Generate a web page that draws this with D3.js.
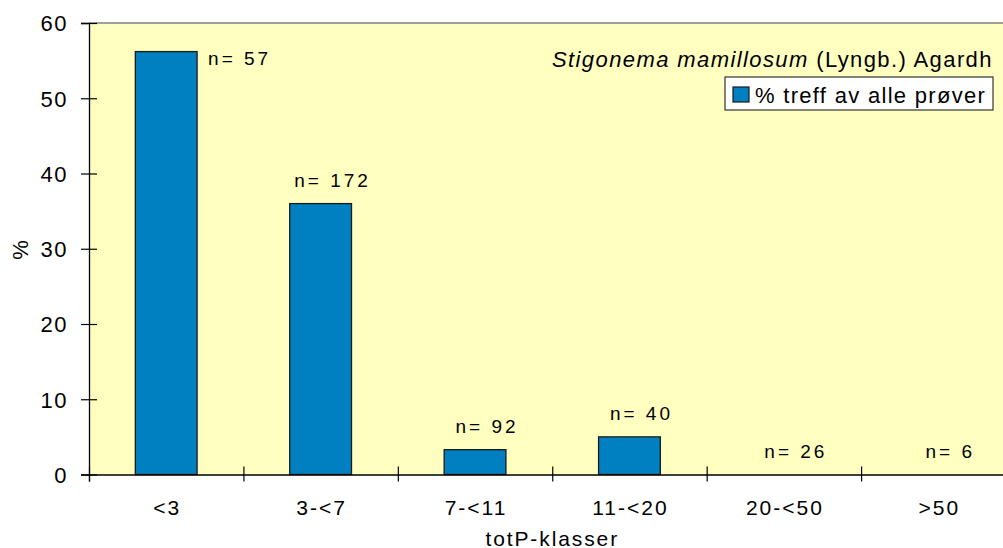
<!DOCTYPE html>
<html lang="en">
	<head>
		<meta charset="utf-8">
		<title>Stigonema mamillosum</title>
		<script type="text/javascript" src="https://cdn.jsdelivr.net/npm/d3@7"></script>
		<style type="text/css">
			body { margin: 0; background: #fff; }
			text { font-family: "Liberation Sans", Arial, sans-serif; fill: #000; }
		</style>
	</head>
	<body>
		<script>
			// data
			var categories = ["<3", "3-<7", "7-<11", "11-<20", "20-<50", ">50"];
			var percent = [56.2, 36.0, 3.3, 5.0, 0, 0];
			var counts = [57, 172, 92, 40, 26, 6];
			var yTicks = [0, 10, 20, 30, 40, 50, 60];
			var seriesName = "% treff av alle prøver";

			var outerWidth = 1003,
				outerHeight = 548,
				margin = {top: 23, left: 89},
				width = 926.5,      // plot runs past the right edge, as in the original
				height = 451.5;

			var svg = d3.select("body")
						.append("svg")
						.attr("width", outerWidth)
						.attr("height", outerHeight);

			var g = svg.append("g")
						.attr("transform", "translate(" + margin.left + "," + margin.top + ")");

			var x = d3.scaleBand()
						.domain(categories)
						.range([0, width])
						.paddingInner(0.6)
						.paddingOuter(0.3);

			var xEdge = d3.scaleLinear()
						.domain([0, categories.length])
						.range([0, width]);

			var y = d3.scaleLinear()
						.domain([0, 60])
						.range([height, 0]);

			// plot background
			g.append("rect")
				.attr("width", width)
				.attr("height", height)
				.attr("fill", "#ffffc0");

			g.append("line")
				.attr("x1", 0).attr("x2", width)
				.attr("y1", 0).attr("y2", 0)
				.attr("stroke", "#808080")
				.attr("stroke-width", 1.5);

			// bars
			g.selectAll("rect.bar")
				.data(categories.filter(function(c, i) { return percent[i] > 0; }))
				.enter().append("rect")
				.attr("class", "bar")
				.attr("x", function(d) { return x(d); })
				.attr("y", function(d) { return y(percent[categories.indexOf(d)]); })
				.attr("width", x.bandwidth())
				.attr("height", function(d) { return height - y(percent[categories.indexOf(d)]); })
				.attr("fill", "#0080c0")
				.attr("stroke", "#1a1a1a")
				.attr("stroke-width", 1.3);

			// n= labels
			g.selectAll("text.nlab")
				.data(categories)
				.enter().append("text")
				.attr("class", "nlab")
				.attr("font-size", 19)
				.attr("letter-spacing", 3)
				.attr("text-anchor", function(d, i) {
					return y(percent[i]) - 30 < 0 ? "start" : "middle";
				})
				.attr("x", function(d, i) {
					if (y(percent[i]) - 30 < 0) return x(d) + x.bandwidth() + 11;
					return x(d) + x.bandwidth() / 2 + 12;
				})
				.attr("y", function(d, i) {
					if (y(percent[i]) - 30 < 0) return y(percent[i]) + 13;
					return y(percent[i]) - 17;
				})
				.text(function(d, i) { return "n= " + counts[i]; });

			// y axis
			var yAxis = g.append("g")
				.call(d3.axisLeft(y).tickValues(yTicks).tickSize(8).tickPadding(13));
			yAxis.select(".domain").attr("stroke", "#000").attr("stroke-width", 1.3);
			yAxis.selectAll(".tick line").attr("x1", -8).attr("x2", 8).attr("stroke", "#000").attr("stroke-width", 1.2);
			yAxis.selectAll(".tick text")
				.attr("font-size", 22)
				.attr("letter-spacing", 1.5)
				.attr("font-family", "Liberation Sans, Arial, sans-serif")
				.attr("dy", "0.36em");

			// x axis: boundary ticks
			var xAxis = g.append("g")
				.attr("transform", "translate(0," + height + ")")
				.call(d3.axisBottom(xEdge).tickValues(d3.range(categories.length + 1)).tickSize(7).tickFormat(""));
			xAxis.select(".domain").attr("stroke", "#000").attr("stroke-width", 1.3);
			xAxis.selectAll(".tick line").attr("y1", -8).attr("y2", 7).attr("stroke", "#000").attr("stroke-width", 1.2);

			// category labels
			g.append("g")
				.selectAll("text")
				.data(categories)
				.enter().append("text")
				.attr("x", function(d) { return x(d) + x.bandwidth() / 2 + 1; })
				.attr("y", height + 40)
				.attr("text-anchor", "middle")
				.attr("font-size", 21)
				.attr("letter-spacing", 2)
				.text(function(d) { return d; });

			// axis titles
			g.append("text")
				.attr("x", width / 2)
				.attr("y", height + 71)
				.attr("text-anchor", "middle")
				.attr("font-size", 21)
				.attr("letter-spacing", 1.9)
				.text("totP-klasser");

			svg.append("text")
				.attr("transform", "translate(28,250) rotate(-90)")
				.attr("text-anchor", "middle")
				.attr("font-size", 22)
				.text("%");

			// species name
			var title = svg.append("text")
				.attr("x", 552)
				.attr("y", 67)
				.attr("font-size", 22)
				.attr("letter-spacing", 1.4);
			title.append("tspan").attr("font-style", "italic").text("Stigonema mamillosum");
			title.append("tspan").text(" (Lyngb.) Agardh");

			// legend
			var legend = svg.append("g").attr("transform", "translate(725,77)");
			legend.append("rect")
				.attr("width", 268)
				.attr("height", 33)
				.attr("fill", "#fff")
				.attr("stroke", "#333")
				.attr("stroke-width", 1.2);
			legend.append("rect")
				.attr("x", 8).attr("y", 10)
				.attr("width", 16).attr("height", 15)
				.attr("fill", "#0080c0")
				.attr("stroke", "#1a1a1a")
				.attr("stroke-width", 1.2);
			legend.append("text")
				.attr("x", 30)
				.attr("y", 26)
				.attr("font-size", 22)
				.attr("letter-spacing", 1.3)
				.text(seriesName);
		</script>
	</body>
</html>
